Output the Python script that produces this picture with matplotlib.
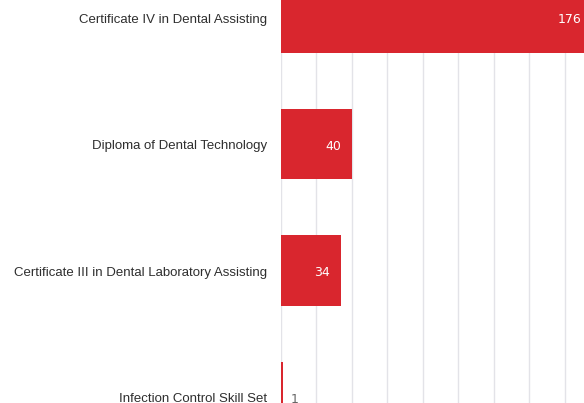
import matplotlib
matplotlib.use('Agg')
from matplotlib import pyplot as plt

courses = ['Certificate IV in Dental Assisting', 'Diploma of Dental Technology',
           'Certificate III in Dental Laboratory Assisting', 'Infection Control Skill Set']
counts = [176, 40, 34, 1]

fig = plt.figure(figsize=(5.84, 4.03), dpi=100)
ax = fig.add_axes([281 / 584, 0, 1 - 281 / 584, 1])

ypos = list(range(len(courses)))
ax.barh(ypos, counts, height=0.56, color='#d9262e', zorder=2)

ax.set_xlim(0, 303 / 1.7725)
ax.set_ylim((403 - 17.5) / 126.5, -17.5 / 126.5)
ax.set_xticks(range(0, 180, 20))
ax.grid(axis='x', color='#e3e3e8', lw=1, zorder=0)
ax.tick_params(length=0, labelbottom=False, labelleft=False)
for s in ax.spines.values():
    s.set_visible(False)

for y, name in zip(ypos, courses):
    ax.annotate(name, (0, y), xytext=(-10, -1.5), textcoords='offset points',
                ha='right', va='center', fontsize=9.5, color='#2e2e2e',
                family='Liberation Sans', annotation_clip=False)

for y, v in zip(ypos, counts):
    if v > 10:
        ax.annotate(str(v), (v, y), xytext=(-8, -1.5), textcoords='offset points',
                    ha='right', va='center', fontsize=9, color='white',
                    family='DejaVu Sans', annotation_clip=False)
    else:
        ax.annotate(str(v), (v, y), xytext=(6, -1.5), textcoords='offset points',
                    ha='left', va='center', fontsize=9, color='#666666',
                    family='DejaVu Sans')

plt.savefig('out.png', dpi=100)
